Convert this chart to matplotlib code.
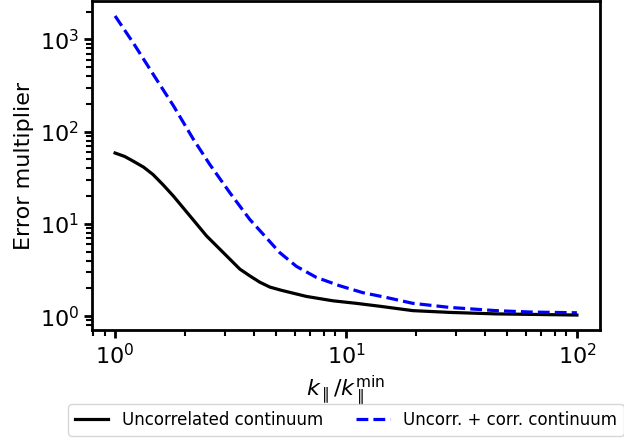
import numpy as np
import matplotlib
matplotlib.use('Agg')
import matplotlib.pyplot as plt

# values
k_uncorr = [1.0, 1.10, 1.20, 1.33, 1.46, 1.62, 1.79, 2.11, 2.49, 2.94, 3.47, 3.83, 4.23, 4.68,
            5.25, 6.73, 8.77, 11.07, 14.1, 19.45, 28.2, 44.6, 100.0]
err_uncorr = [58.7, 53.9, 47.8, 41.2, 34.3, 26.3, 20.0, 12.2, 7.41, 4.90, 3.24, 2.74, 2.34, 2.07,
              1.91, 1.64, 1.47, 1.38, 1.28, 1.15, 1.10, 1.06, 1.03]

k_corr = [1.0, 1.20, 1.49, 1.79, 2.18, 2.57, 3.14, 3.83, 4.38, 5.16, 6.10, 7.43, 9.38,
          11.83, 14.9, 19.45, 28.2, 44.6, 63.0, 100.0]
err_corr = [1795, 912, 389, 190.5, 83.2, 44.2, 21.8, 11.2, 7.73, 4.90, 3.47, 2.64, 2.14,
            1.80, 1.60, 1.38, 1.245, 1.15, 1.11, 1.09]

fig = plt.figure(figsize=(6.24, 4.4), dpi=100)
ax = fig.add_axes([92/624, 110/440, 508/624, 329/440])

ax.plot(k_uncorr, err_uncorr, 'k-', lw=2.3, label="Uncorrelated continuum")
ax.plot(k_corr, err_corr, 'b--', lw=2.3, label="Uncorr. + corr. continuum")
ax.set_xscale('log')
ax.set_yscale('log')

for s in ax.spines.values():
    s.set_linewidth(2)
ax.tick_params(which='major', length=6, width=2, labelsize=16)
ax.tick_params(which='minor', length=4, width=1.5)

ax.set_xlabel(r"$k_\parallel/k_\parallel^{\rm min}$", fontsize=16)
ax.set_ylabel("Error multiplier", fontsize=16)

fig.legend(loc='center left', bbox_to_anchor=(60/624, 1-420/440), ncol=2, fontsize=12)

fig.savefig('out.png', dpi=100)
